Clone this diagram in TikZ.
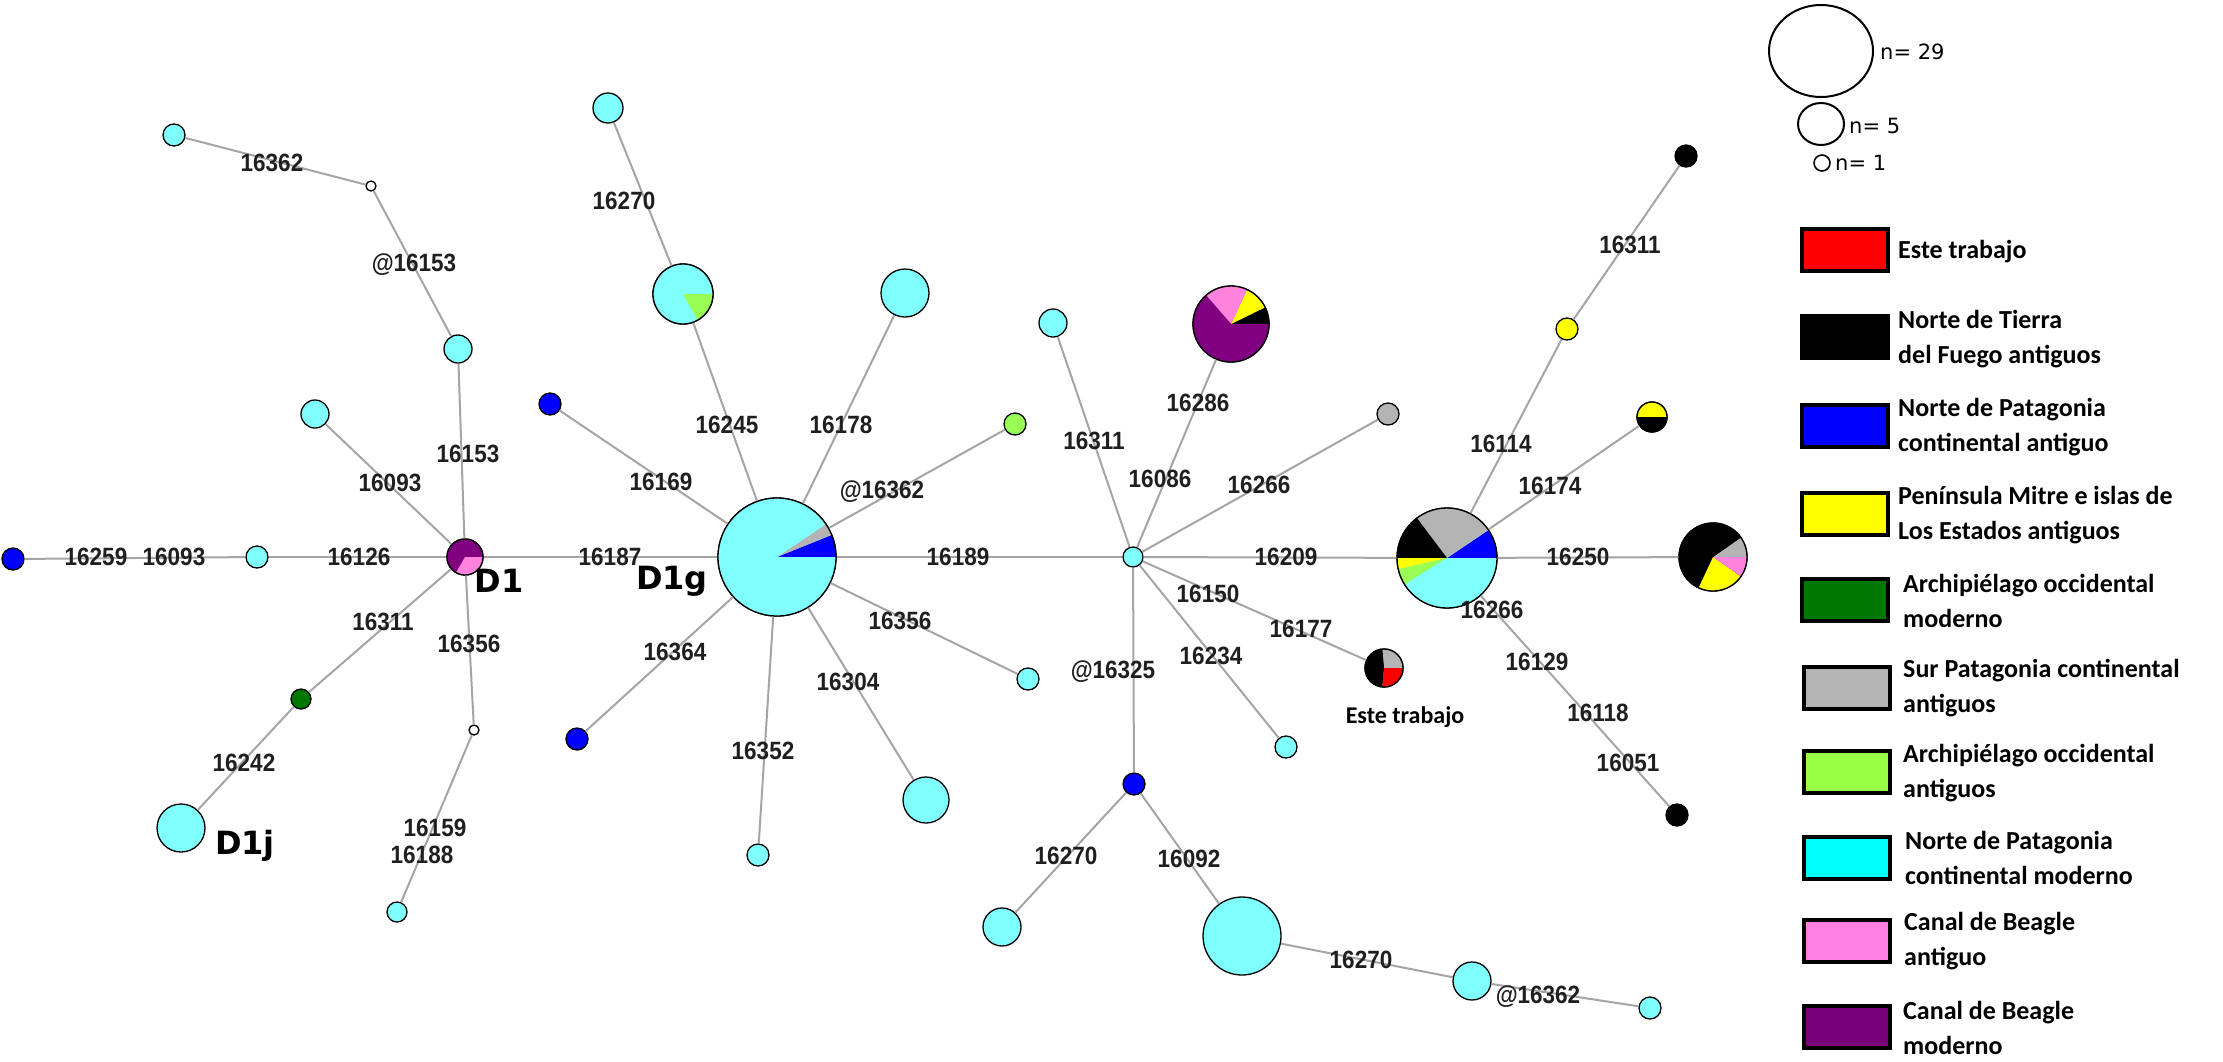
\documentclass[tikz,border=0pt]{standalone}
\usepackage{fontspec}
\setmainfont{Liberation Sans}
\newfontfamily\labfont{Liberation Sans}[FakeStretch=0.9]
\newfontfamily\calfont{Carlito}
\newfontfamily\dvfont{DejaVu Sans}
\definecolor{cyanN}{RGB}{128,255,255}
\definecolor{blueN}{RGB}{0,0,255}
\definecolor{grayN}{RGB}{180,180,180}
\definecolor{ltgreenN}{RGB}{153,255,85}
\definecolor{dkgreenN}{RGB}{0,120,0}
\definecolor{pinkN}{RGB}{255,130,220}
\definecolor{purpleN}{RGB}{128,0,128}
\definecolor{yellowN}{RGB}{255,255,0}
\definecolor{redN}{RGB}{255,0,0}
\definecolor{blackN}{RGB}{0,0,0}
\definecolor{edgeN}{RGB}{165,165,165}
\definecolor{cyanL}{RGB}{0,255,255}
\definecolor{ltgreenL}{RGB}{153,255,68}
\definecolor{pinkL}{RGB}{255,128,224}
\definecolor{purpleL}{RGB}{120,0,120}
\newcommand\pieS[3]{%
  \foreach \aa/\bb/\cc in {#3}{%
    \fill[\cc] (#1.center) -- ++({-\aa}:#2) arc[start angle={-\aa}, end angle={-\bb}, radius=#2] -- cycle;}%
  \draw[line width=1.3pt] (#1.center) circle[radius=#2];}
\tikzset{
  hap/.style={circle, draw=black, line width=1.3pt, inner sep=0pt, minimum size=#1},
  con/.style={draw=edgeN, line width=2pt},
  mut/.style={font=\labfont\bfseries\fontsize{25}{28}\selectfont, text=black!88, inner sep=1pt},
  hapname/.style={font=\dvfont\bfseries\fontsize{32}{36}\selectfont, inner sep=0pt},
  legbox/.style={draw=black, line width=4pt, minimum width=86pt, minimum height=42pt, inner sep=0pt},
  legtext/.style={font=\calfont\bfseries\fontsize{26}{35}\selectfont, align=left, anchor=west, inner sep=0pt},
  sizetext/.style={font=\dvfont\fontsize{21}{24}\selectfont, anchor=west, inner sep=0pt}
}
\begin{document}
\begin{tikzpicture}[x=1pt,y=-1pt]
\useasboundingbox[fill=white] (0,0) rectangle (2223,1061);
% ---------- nodes ----------
% left cluster
\node[hap=22, fill=cyanN] (a1) at (174,135) {};
\node[hap=10, fill=white] (w1) at (371,186) {};
\node[hap=28, fill=cyanN] (a2) at (458,349) {};
\node[hap=28, fill=cyanN] (a3) at (315,414) {};
\node[hap=22, fill=blueN] (bl1) at (13,559) {};
\node[hap=22, fill=cyanN] (a4) at (257,557) {};
\node[hap=36, fill=purpleN] (D1) at (465,557) {};
\node[hap=20, fill=dkgreenN] (g1) at (301,699) {};
\node[hap=48, fill=cyanN] (D1j) at (181,828) {};
\node[hap=10, fill=white] (w2) at (474,730) {};
\node[hap=20, fill=cyanN] (a5) at (397,912) {};
% middle cluster
\node[hap=118, fill=cyanN] (D1g) at (777,557) {};
\node[hap=30, fill=cyanN] (b1) at (608,108) {};
\node[hap=60, fill=cyanN] (pg) at (683,294) {};
\node[hap=48, fill=cyanN] (b2) at (905,293) {};
\node[hap=22, fill=blueN] (bl2) at (550,404) {};
\node[hap=22, fill=ltgreenN] (lg1) at (1015,424) {};
\node[hap=22, fill=blueN] (bl3) at (577,739) {};
\node[hap=22, fill=cyanN] (b3) at (758,855) {};
\node[hap=46, fill=cyanN] (b4) at (926,800) {};
\node[hap=22, fill=cyanN] (b5) at (1028,679) {};
\node[hap=20, fill=cyanN] (hub) at (1133,557) {};
% right cluster
\node[hap=28, fill=cyanN] (c1) at (1053,323) {};
\node[hap=76, fill=purpleN] (ptop) at (1231,324) {};
\node[hap=22, fill=grayN] (gr1) at (1388,414) {};
\node[hap=100, fill=cyanN] (RP) at (1447,558) {};
\node[hap=38, fill=grayN] (ET) at (1384,668) {};
\node[hap=22, fill=cyanN] (c2) at (1286,747) {};
\node[hap=22, fill=blueN] (bl4) at (1134,784) {};
\node[hap=38, fill=cyanN] (c3) at (1002,927) {};
\node[hap=78, fill=cyanN] (c4) at (1242,936) {};
\node[hap=38, fill=cyanN] (c5) at (1472,981) {};
\node[hap=22, fill=cyanN] (c6) at (1650,1008) {};
\node[hap=22, fill=black] (k1) at (1686,156) {};
\node[hap=22, fill=yellowN] (y1) at (1567,329) {};
\node[hap=30, fill=black] (yb) at (1652,417) {};
\node[hap=68, fill=black] (FR) at (1713,557) {};
\node[hap=22, fill=black] (k2) at (1677,815) {};
% ---------- pies ----------
\pieS{D1}{18}{0/240/purpleN, 240/360/pinkN}
\pieS{D1g}{59}{0/22/blueN, 22/34/grayN, 34/360/cyanN}
\pieS{pg}{30}{0/299/cyanN, 299/360/ltgreenN}
\pieS{ptop}{38}{0/26/blackN, 26/65/yellowN, 65/131/pinkN, 131/360/purpleN}
\pieS{RP}{50}{0/34/blueN, 34/127/grayN, 127/180/blackN, 180/193/yellowN, 193/212/ltgreenN, 212/360/cyanN}
\pieS{ET}{19}{0/95/grayN, 95/265/blackN, 265/360/redN}
\pieS{yb}{15}{0/180/yellowN, 180/360/blackN}
\pieS{FR}{34}{0/35/grayN, 35/245/blackN, 245/325/yellowN, 325/360/pinkN}
% ---------- connectors ----------
\foreach \p/\q in {D1/D1g, D1/a4, a4/bl1, D1/a3, D1/a2, a2/w1, w1/a1, D1/g1, g1/D1j, D1/w2, w2/a5,
  D1g/pg, pg/b1, D1g/b2, D1g/bl2, D1g/lg1, D1g/hub, D1g/b5, D1g/b4, D1g/b3, D1g/bl3,
  hub/c1, hub/ptop, hub/gr1, hub/RP, hub/ET, hub/c2, hub/bl4, bl4/c3, bl4/c4, c4/c5, c5/c6,
  RP/y1, y1/k1, RP/yb, RP/FR, RP/k2}
  \draw[con] (\p) -- (\q);
% ---------- mutation labels ----------
\node[mut] (m1) at (272,163) {16362};
\node[mut] (m2) at (414,265) {@16153};
\node[mut] (m3) at (468,454) {16153};
\node[mut] (m4) at (390,483) {16093};
\node[mut] (m5) at (96,557) {16259};
\node[mut] (m6) at (174,557) {16093};
\node[mut] (m7) at (359,557) {16126};
\node[mut] (m8) at (610,557) {16187};
\node[mut] (m9) at (383,622) {16311};
\node[mut] (m10) at (469,644) {16356};
\node[mut] (m11) at (244,763) {16242};
\node[mut] (m12) at (435,828) {16159};
\node[mut] (m13) at (422,855) {16188};
\node[mut] (m14) at (624,201) {16270};
\node[mut] (m15) at (727,425) {16245};
\node[mut] (m16) at (841,425) {16178};
\node[mut] (m17) at (661,482) {16169};
\node[mut] (m18) at (882,492) {@16362};
\node[mut] (m19) at (958,557) {16189};
\node[mut] (m20) at (900,621) {16356};
\node[mut] (m21) at (675,652) {16364};
\node[mut] (m22) at (848,682) {16304};
\node[mut] (m23) at (763,751) {16352};
\node[mut] (m24) at (1094,441) {16311};
\node[mut] (m25) at (1198,403) {16286};
\node[mut] (m26) at (1160,479) {16086};
\node[mut] (m27) at (1259,485) {16266};
\node[mut] (m28) at (1286,557) {16209};
\node[mut] (m29) at (1208,594) {16150};
\node[mut] (m30) at (1301,629) {16177};
\node[mut] (m31) at (1211,656) {16234};
\node[mut] (m32) at (1113,672) {@16325};
\node[mut] (m33) at (1066,856) {16270};
\node[mut] (m34) at (1189,859) {16092};
\node[mut] (m35) at (1361,960) {16270};
\node[mut] (m36) at (1538,997) {@16362};
\node[mut] (m37) at (1630,245) {16311};
\node[mut] (m38) at (1501,444) {16114};
\node[mut] (m39) at (1550,486) {16174};
\node[mut] (m40) at (1578,557) {16250};
\node[mut] (m41) at (1492,610) {16266};
\node[mut] (m42) at (1537,662) {16129};
\node[mut] (m43) at (1598,713) {16118};
\node[mut] (m44) at (1628,763) {16051};
% ---------- haplogroup names ----------
\node[hapname] (tD1) at (499,581) {D1};
\node[hapname] (tD1g) at (672,581) {D1g};
\node[hapname] (tD1j) at (245,846) {D1j};
\node[font=\calfont\bfseries\fontsize{24}{28}\selectfont, inner sep=0pt] (tET) at (1405,717) {Este trabajo};
% ---------- size legend ----------
\draw[line width=2pt] (1821,51) ellipse[x radius=52, y radius=46];
\node[sizetext] (n29) at (1880,52) {n= 29};
\draw[line width=2pt] (1821,124) ellipse[x radius=23, y radius=21];
\node[sizetext] (n5) at (1849,126) {n= 5};
\draw[line width=1.6pt] (1822,163) circle[radius=8];
\node[sizetext] (n1) at (1835,163) {n= 1};
% ---------- colour legend ----------
\node[legbox, fill=redN] (L1) at (1845,250) {};
\node[legtext] (T1) at (1898,252) {Este trabajo};
\node[legbox, fill=black] (L2) at (1845,337) {};
\node[legtext] (T2) at (1898,339) {Norte de Tierra\\del Fuego antiguos};
\node[legbox, fill=blueN] (L3) at (1845,426) {};
\node[legtext] (T3) at (1898,427) {Norte de Patagonia\\continental antiguo};
\node[legbox, fill=yellowN] (L4) at (1845,514) {};
\node[legtext] (T4) at (1898,515) {Península Mitre e islas de\\Los Estados antiguos};
\node[legbox, fill=dkgreenN] (L5) at (1845,600) {};
\node[legtext] (T5) at (1903,601) {Archipiélago occidental\\moderno};
\node[legbox, fill=grayN] (L6) at (1847,688) {};
\node[legtext] (T6) at (1903,688) {Sur Patagonia continental\\antiguos};
\node[legbox, fill=ltgreenL] (L7) at (1847,772) {};
\node[legtext] (T7) at (1903,773) {Archipiélago occidental\\antiguos};
\node[legbox, fill=cyanL] (L8) at (1847,858) {};
\node[legtext] (T8) at (1905,858) {Norte de Patagonia\\continental moderno};
\node[legbox, fill=pinkL] (L9) at (1847,941) {};
\node[legtext] (T9) at (1904,941) {Canal de Beagle\\antiguo};
\node[legbox, fill=purpleL] (L10) at (1847,1027) {};
\node[legtext] (T10) at (1903,1028) {Canal de Beagle\\moderno};
\end{tikzpicture}
\end{document}
